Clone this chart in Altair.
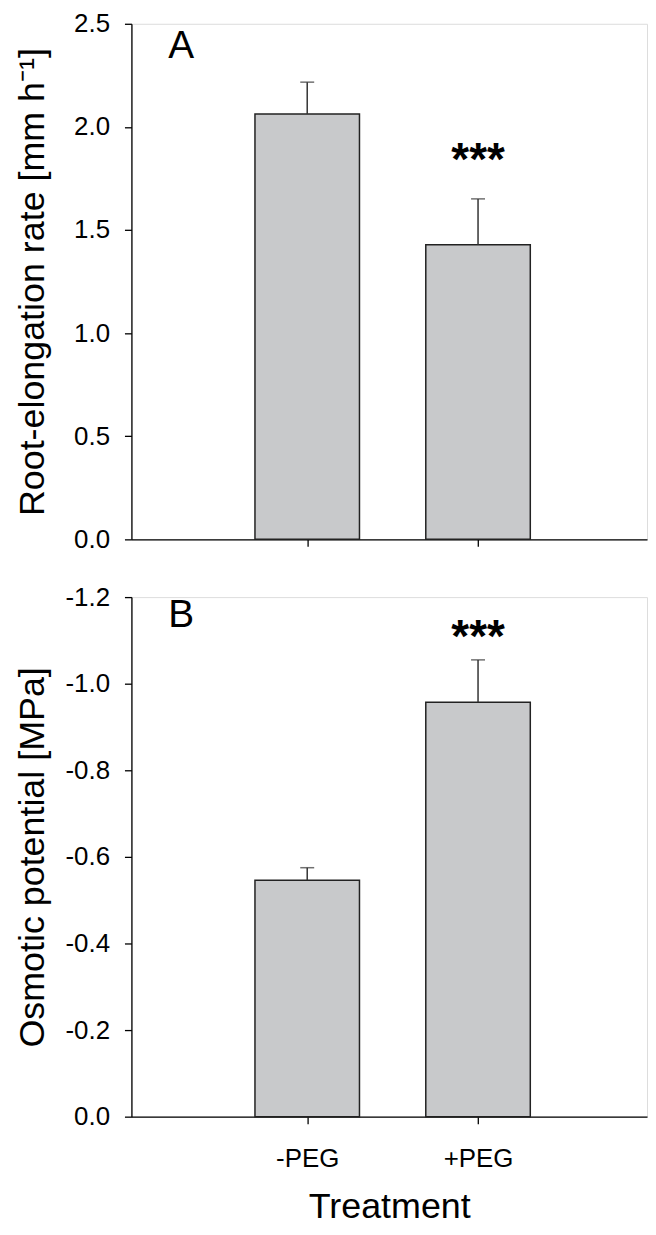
import altair as alt
import pandas as pd

treatments = ["-PEG", "+PEG"]
xpos = [1, 2]
rate_mean = [2.062, 1.429]
rate_err = [0.155, 0.222]
osm_mean = [-0.546, -0.957]
osm_err = [-0.029, -0.098]
sig_labels = ["", "***"]

FONT = "Liberation Sans"
FILL = "#c8c9cb"
EDGE = "#222222"

dfA = pd.DataFrame({"x": xpos, "t": treatments, "m": rate_mean, "e": rate_err, "sig": sig_labels})
dfA["up"] = dfA["m"] + dfA["e"]
dfB = pd.DataFrame({"x": xpos, "t": treatments, "m": osm_mean, "e": osm_err, "sig": sig_labels})
dfB["up"] = dfB["m"] + dfB["e"]

XDOM = [0, 2.96]
W = 518


def panel(df, ydom, yvals, ytitle, letter, letter_y, sig_y, H, bottom):
    xaxis = alt.Axis(
        values=xpos,
        labels=bottom,
        labelExpr="datum.value == 1 ? '-PEG' : '+PEG'",
        title="Treatment" if bottom else None,
        grid=False,
        tickSize=7,
        tickColor="black",
        domainColor="black",
        domainWidth=1.3,
        tickWidth=1.3,
        labelFontSize=26,
        labelFont=FONT,
        labelColor="black",
        labelPadding=22,
        titleFont=FONT,
        titleFontSize=36,
        titleFontWeight="normal",
        titleColor="black",
        titlePadding=18,
    )
    yaxis = alt.Axis(
        values=yvals,
        labelExpr="replace(format(datum.value, '.1f'), '\u2212', '-')",
        title=ytitle,
        grid=False,
        tickSize=7,
        tickColor="black",
        domainColor="black",
        domainWidth=1.3,
        tickWidth=1.3,
        labelFontSize=26,
        labelFont=FONT,
        labelColor="black",
        labelPadding=15,
        minExtent=68,
        maxExtent=68,
        titleFont=FONT,
        titleFontSize=36,
        titleFontWeight="normal",
        titleColor="black",
        titlePadding=12,
    )
    xs = alt.Scale(domain=XDOM, nice=False, zero=False)
    ys = alt.Scale(domain=ydom, nice=False)
    base = alt.Chart(df)
    bars = base.mark_bar(size=105, fill=FILL, stroke=EDGE, strokeWidth=1.5).encode(
        x=alt.X("x:Q", scale=xs, axis=xaxis),
        y=alt.Y("m:Q", scale=ys, axis=yaxis),
    )
    err = base.mark_rule(color="#333333", strokeWidth=1.5).encode(
        x="x:Q", y="m:Q", y2="up:Q"
    )
    cap = base.mark_tick(orient="horizontal", size=14, thickness=1.5, color="#333333").encode(
        x="x:Q", y="up:Q"
    )
    sig = base.mark_text(font=FONT, fontSize=46, fontWeight="bold", baseline="middle", dy=9).encode(
        x="x:Q", y=alt.datum(sig_y), text="sig:N"
    )
    lab = alt.Chart(pd.DataFrame({"lx": [0.262], "ly": [letter_y], "lt": [letter]})).mark_text(
        font=FONT, fontSize=39, baseline="middle", align="center"
    ).encode(x="lx:Q", y="ly:Q", text="lt:N")
    return alt.layer(bars, err, cap, sig, lab).properties(width=W, height=H)


A = panel(dfA, [0, 2.5], [0, 0.5, 1.0, 1.5, 2.0, 2.5],
          "Root-elongation rate [mm h\u207b\u00b9]", "A", 2.39, 1.88, 518, False)
B = panel(dfB, [0, -1.2], [0, -0.2, -0.4, -0.6, -0.8, -1.0, -1.2],
          "Osmotic potential [MPa]", "B", -1.158, -1.125, 522, True)

chart = alt.vconcat(A, B, spacing=30).properties(
    padding={"left": 6, "top": -1, "right": 0, "bottom": 0}
).configure_view(stroke=None).configure(background="white")

chart.save("out.html", embed_options={"renderer": "svg", "actions": False})
